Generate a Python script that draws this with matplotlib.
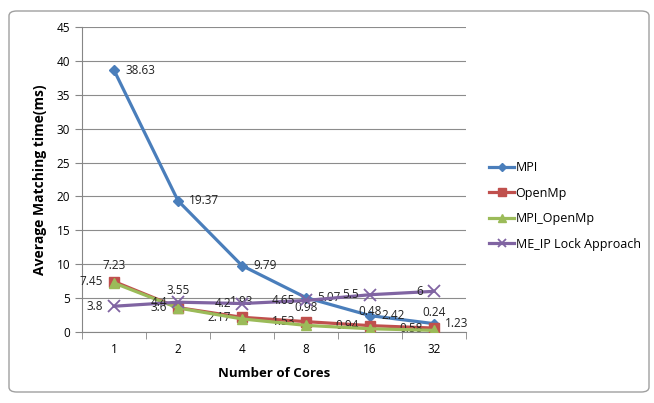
import matplotlib
matplotlib.use("Agg")
import matplotlib.pyplot as plt
from matplotlib.patches import FancyBboxPatch
import numpy as np

cores = ["1", "2", "4", "8", "16", "32"]
mpi = [38.63, 19.37, 9.79, 5.07, 2.42, 1.23]
openmp = [7.45, 3.6, 2.17, 1.53, 0.94, 0.58]
mpi_openmp = [7.23, 3.55, 1.93, 0.98, 0.48, 0.24]
meip = [3.8, 4.4, 4.2, 4.65, 5.5, 6]

plt.rcParams['font.family'] = ['Open Sans', 'DejaVu Sans']

W, H = 654, 403
fig = plt.figure(figsize=(W/100, H/100), dpi=100)
fig.patch.set_facecolor('white')

# outer frame
frame = FancyBboxPatch((9/W, 11/H), 640/W, 381/H,
                       boxstyle="round,pad=0,rounding_size=0.012",
                       transform=fig.transFigure, facecolor='none',
                       edgecolor='#A0A0A0', linewidth=1.0, zorder=-1)
fig.patches.append(frame)

ax = fig.add_axes([82/W, 1 - 332/H, (466-82)/W, (332-27)/H])
ax.set_facecolor('none')
x = np.arange(len(cores))

series = [
    (mpi, 'MPI', '#4A7EBB', 'D', 5, 'right'),
    (openmp, 'OpenMp', '#C0504D', 's', 7, 'left'),
    (mpi_openmp, 'MPI_OpenMp', '#9BBB59', '^', 7, 'above'),
    (meip, 'ME_IP Lock Approach', '#8064A2', 'x', 8, 'left'),
]
for vals, name, col, mk, ms, pos in series:
    ax.plot(x, vals, color=col, lw=2.3, marker=mk, markersize=ms,
            markeredgewidth=1.3 if mk == 'x' else 1, label=name, zorder=3)
    for xi, v in zip(x, vals):
        lab = f"{v:g}"
        if pos == 'right':
            ax.annotate(lab, (xi, v), xytext=(8, 0), textcoords='offset points',
                        ha='left', va='center', fontsize=8.5, color='#222222')
        elif pos == 'left':
            ax.annotate(lab, (xi, v), xytext=(-8, 0), textcoords='offset points',
                        ha='right', va='center', fontsize=8.5, color='#222222')
        else:
            ax.annotate(lab, (xi, v), xytext=(0, 8), textcoords='offset points',
                        ha='center', va='bottom', fontsize=8.5, color='#222222')

ax.set_xlim(-0.5, len(cores) - 0.5)
ax.set_ylim(0, 45)
ax.set_yticks(np.arange(0, 46, 5))
ax.set_xticks(x)
ax.set_xticklabels(cores)
ax.set_xticks(np.arange(-0.5, len(cores), 1), minor=True)
ax.tick_params(axis='x', which='major', length=0, labelsize=8.5, pad=8)
ax.tick_params(axis='x', which='minor', length=5, color='#868686')
ax.tick_params(axis='y', length=5, labelsize=8.5, color='#868686')
ax.grid(axis='y', color='#8C8C8C', lw=0.8)
ax.set_axisbelow(True)
for s in ['top', 'right']:
    ax.spines[s].set_visible(False)
for s in ['left', 'bottom']:
    ax.spines[s].set_color('#868686')

ax.set_xlabel('Number of Cores', fontsize=9.5, fontweight='bold', labelpad=8)
ax.set_ylabel('Average Matching time(ms)', fontsize=10, fontweight='bold', labelpad=7)

ax.legend(loc='center left', bbox_to_anchor=(478/W, 1 - 206/H),
          bbox_transform=fig.transFigure, frameon=False, fontsize=9,
          handlelength=2.0, labelspacing=1.0, handletextpad=0.1, markerscale=0.8)

fig.savefig('out.png', dpi=100)
